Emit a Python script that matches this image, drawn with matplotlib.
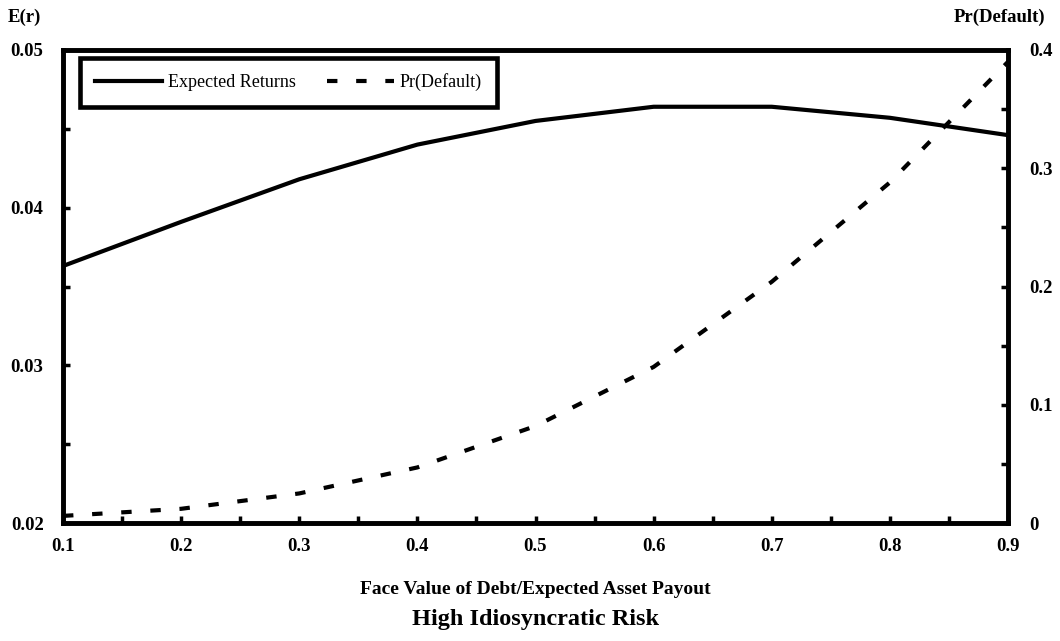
import numpy as np
import matplotlib
matplotlib.use("Agg")
import matplotlib.pyplot as plt
from matplotlib.ticker import MultipleLocator, FixedFormatter, FixedLocator

plt.rcParams['font.family'] = ['Liberation Serif', 'DejaVu Serif']

# datos
debt_ratio = [0.1, 0.2, 0.3, 0.4, 0.5, 0.6, 0.7, 0.8, 0.9]
expected_returns = [0.0363, 0.0391, 0.0418, 0.0440, 0.0455, 0.0464, 0.0464, 0.0457, 0.0446]
pr_default = [0.006, 0.012, 0.025, 0.047, 0.082, 0.132, 0.204, 0.288, 0.390]

left_ticks = [0.02, 0.03, 0.04, 0.05]
left_labels = ['0.02', '0.03', '0.04', '0.05']
right_ticks = [0.0, 0.1, 0.2, 0.3, 0.4]
right_labels = ['0', '0.1', '0.2', '0.3', '0.4']
x_ticks = [0.1, 0.2, 0.3, 0.4, 0.5, 0.6, 0.7, 0.8, 0.9]
x_labels = ['0.1', '0.2', '0.3', '0.4', '0.5', '0.6', '0.7', '0.8', '0.9']

W, H = 1060, 641
fig = plt.figure(figsize=(W / 100, H / 100), dpi=100)
ax = fig.add_axes([63 / W, 1 - 523 / H, (1008 - 63) / W, (523 - 50) / H])
ax2 = ax.twinx()

lw = 3.0
l1, = ax.plot(debt_ratio, expected_returns, color='black', lw=lw,
              solid_joinstyle='round', label='Expected Returns')
l2, = ax2.plot(debt_ratio, pr_default, color='black', lw=lw,
               linestyle=(0, (2.5, 4.5)), dash_capstyle='butt',
               label='Pr(Default)')

ax.set_xlim(0.1, 0.9)
ax.set_ylim(0.02, 0.05)
ax2.set_ylim(0.0, 0.4)

ax.xaxis.set_major_locator(FixedLocator(x_ticks))
ax.xaxis.set_major_formatter(FixedFormatter(x_labels))
ax.xaxis.set_minor_locator(MultipleLocator(0.05))
ax.yaxis.set_major_locator(FixedLocator(left_ticks))
ax.yaxis.set_major_formatter(FixedFormatter(left_labels))
ax.yaxis.set_minor_locator(MultipleLocator(0.005))
ax2.yaxis.set_major_locator(FixedLocator(right_ticks))
ax2.yaxis.set_major_formatter(FixedFormatter(right_labels))
ax2.yaxis.set_minor_locator(MultipleLocator(0.05))

for a in (ax, ax2):
    for s in a.spines.values():
        s.set_linewidth(3.3)
    a.tick_params(which='both', direction='in', width=2.5, length=5,
                  labelsize=13.5)
    for t in a.get_xticklabels() + a.get_yticklabels():
        t.set_fontweight('bold')

ax.tick_params(axis='y', which='both', right=False, pad=14)
ax.tick_params(axis='x', which='both', top=False, pad=11)
ax2.tick_params(axis='y', which='both', left=False, pad=15)

leg = ax2.legend(handles=[l1, l2], loc='upper left', ncol=2,
                 bbox_to_anchor=(80 / W, 1 - 58 / H),
                 bbox_transform=fig.transFigure, borderaxespad=0,
                 fancybox=False, framealpha=1, edgecolor='black',
                 prop={'size': 13.0}, handlelength=3.7, handletextpad=0.3,
                 columnspacing=1.75, borderpad=0.85)
leg.get_frame().set_linewidth(3.3)

fig.text(8 / W, 1 - 17 / H, 'E(r)', fontsize=13.5, fontweight='bold',
         ha='left', va='center')
fig.text(1045 / W, 1 - 17 / H, 'Pr(Default)', fontsize=13.5,
         fontweight='bold', ha='right', va='center')
fig.text(535 / W, 1 - 590 / H, 'Face Value of Debt/Expected Asset Payout',
         fontsize=14, fontweight='bold', ha='center', va='center')
fig.text(535 / W, 1 - 620 / H, 'High Idiosyncratic Risk',
         fontsize=17.5, fontweight='bold', ha='center', va='center')

fig.savefig('out.png', dpi=100)
